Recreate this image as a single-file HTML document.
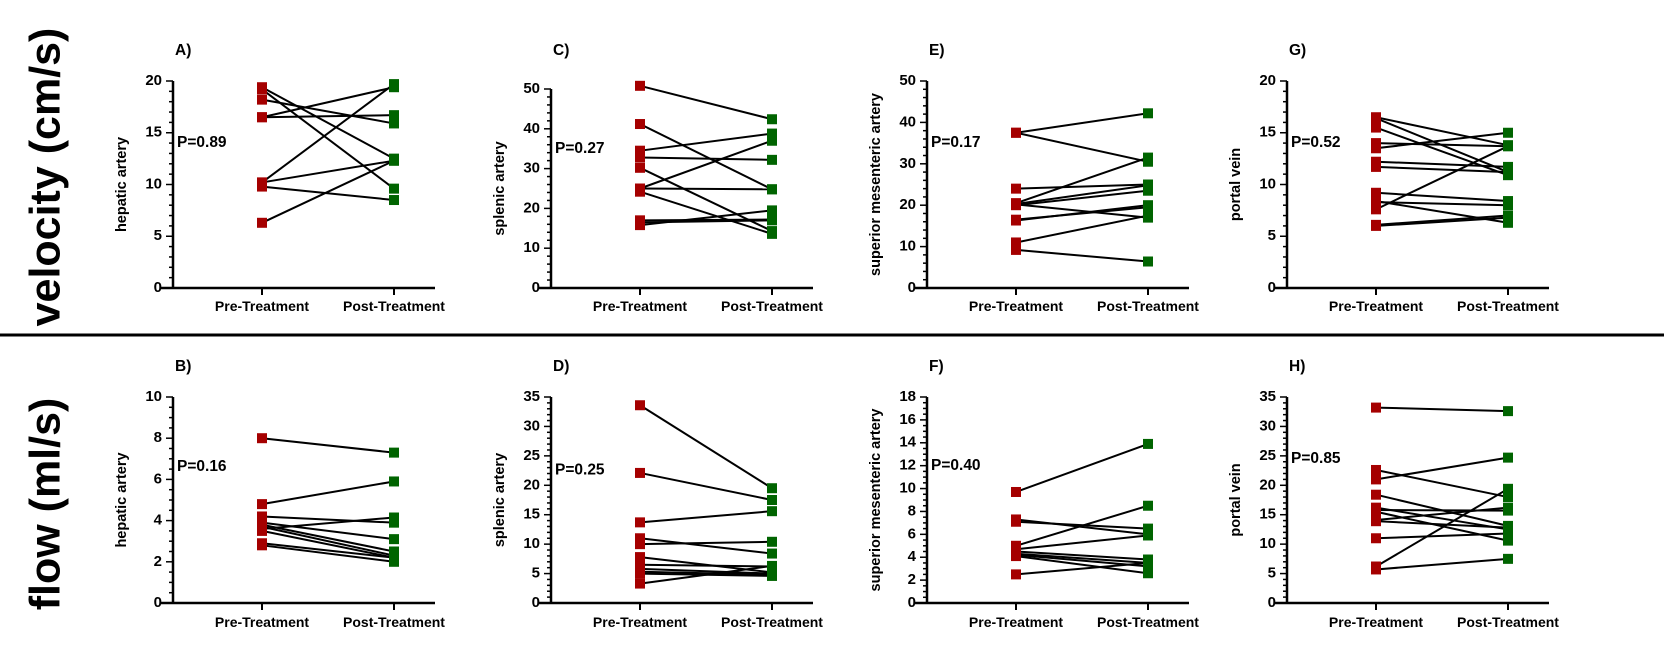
<!DOCTYPE html>
<html><head><meta charset="utf-8"><style>
body{margin:0;background:#fff;}
svg{display:block;font-family:"Liberation Sans",Arial,sans-serif;font-weight:bold;}
</style></head><body>
<svg id="fig" width="1674" height="669">
<text x="48" y="177" transform="rotate(-90 48 177)" text-anchor="middle" dominant-baseline="middle" font-size="43">velocity (cm/s)</text>
<text x="48" y="504" transform="rotate(-90 48 504)" text-anchor="middle" dominant-baseline="middle" font-size="43">flow (ml/s)</text>
<line x1="0" y1="335" x2="1664" y2="335" stroke="#000" stroke-width="3"/>
</svg>
<script>
const labels=["A)","C)","E)","G)","B)","D)","F)","H)"];
const yTitles=["hepatic artery","splenic artery","superior mesenteric artery","portal vein","hepatic artery","splenic artery","superior mesenteric artery","portal vein"];
const pValues=["P=0.89","P=0.27","P=0.17","P=0.52","P=0.16","P=0.25","P=0.40","P=0.85"];
const yMax=[20,50,50,20,10,35,18,35];
const yStep=[5,10,10,5,2,5,2,5];
const yMinor=[1,2,2,1,0.5,1,0.5,1];
const categories=["Pre-Treatment","Post-Treatment"];
const preA=[19.4,19.2,16.5,16.5,10.2,10.2,9.8,6.3,18.2], postA=[12.5,9.6,19.4,16.7,19.7,12.3,8.5,12.3,15.9];
const preC=[50.8,41.2,34.5,32.8,30.2,25,25,24.2,17,16.5,15.8], postC=[42.4,24.8,38.8,32.2,14.3,37,24.8,13.6,17.2,17,19.5];
const preE=[37.5,37.5,24,20.5,20.3,20,20.2,16.5,16.3,11,9.2], postE=[42.2,30.5,25,31.5,24.8,23.5,17,19.5,20,17.5,6.4];
const preG=[16.5,16.4,15.5,14,13.5,12.2,11.7,9.2,8.3,8.4,7.6,6.1,6.0], postG=[13.8,11.2,10.9,13.7,15,11.7,11.2,8.4,8,6.3,13.7,7,6.8];
const preB=[8,4.8,4.2,3.6,3.9,3.8,3.7,3.5,2.9,2.8], postB=[7.3,5.9,3.9,4.15,3.1,2.5,2.3,2.2,2.2,2.0];
const preD=[33.6,22.1,13.7,11,10,7.8,6.5,5.8,5.3,5,3.3], postD=[19.5,17.5,15.6,8.4,10.4,5.2,6.2,5,4.8,4.6,6.3];
const preF=[9.7,7.3,7.1,5,4.7,4.5,4.3,4.2,4.1,2.5], postF=[13.9,6,6.5,8.5,5.9,3.8,3.5,3.2,2.6,3.5];
const preH=[33.2,22.6,21,18.4,16.2,15.8,15.5,14.1,13.9,11,6.2,5.7], postH=[32.6,18,24.7,13.1,12.5,15.7,10.6,16.2,12.8,11.8,19.4,7.5];
const pres=[preA,preC,preE,preG,preB,preD,preF,preH];
const posts=[postA,postC,postE,postG,postB,postD,postF,postH];
const axisX=[173,551,927,1287];
const NS="http://www.w3.org/2000/svg";
const svg=document.getElementById('fig');
function mk(tag,attrs,parent){const e=document.createElementNS(NS,tag);for(const k in attrs)e.setAttribute(k,attrs[k]);(parent||svg).appendChild(e);return e;}
for(let i=0;i<8;i++){
  const col=i%4,row=Math.floor(i/4);
  const ax=axisX[col];
  const yTop=row?397:(i==1?89:81), y0=row?603:288;
  const ys=v=>y0-(v/yMax[i])*(y0-yTop);
  const xPre=ax+89, xPost=ax+221;
  const xs=k=>k==0?xPre:xPost;
  const g=mk('g',{});
  
  
  const lt=mk('text',{x:ax+2,y:row?371:55,'font-size':15.5},g);lt.textContent=labels[i];
  
  const yt=mk('text',{x:0,y:0,'font-size':14.5,'text-anchor':'middle',transform:`translate(${ax-47},${(yTop+y0)/2}) rotate(-90)`},g);yt.textContent=yTitles[i];
  
  const pt=mk('text',{x:ax+4,y:row?(i==6?(y0-(12/18)*(y0-yTop)):(ys(i==4?6.6:(i==5?22.5:24.5)))):(ys(yMax[i]*0.7)),'font-size':15.5,'dominant-baseline':'middle'},g);pt.textContent=pValues[i];
  
  const ya=mk('line',{x1:ax,y1:yTop,x2:ax,y2:y0+1,stroke:'#000','stroke-width':2.5},g);
  
  const xa=mk('line',{x1:ax-12,y1:y0,x2:ax+262,y2:y0,stroke:'#000','stroke-width':2.5},g);
  
  for(let v=0;v<=yMax[i]+1e-9;v+=yMinor[i]){
    const major=Math.abs(v/yStep[i]-Math.round(v/yStep[i]))<1e-6;
    mk('line',{x1:ax-(major?7:4),y1:ys(v),x2:ax,y2:ys(v),stroke:'#000','stroke-width':1.5},g);
    if(major){const t=mk('text',{x:ax-11,y:ys(v),'font-size':15,'text-anchor':'end','dominant-baseline':'middle'},g);t.textContent=Math.round(v);
      }
  }
  categories.forEach((c,k)=>{
    mk('line',{x1:xs(k),y1:y0,x2:xs(k),y2:y0+7,stroke:'#000','stroke-width':2},g);
    const t=mk('text',{x:xs(k),y:row?627:311,'font-size':14,'text-anchor':'middle'},g);t.textContent=c;
    
  });
  const pre=pres[i],post=posts[i];
  for(let j=0;j<pre.length;j++){
    const l=mk('line',{x1:xPre,y1:ys(pre[j]),x2:xPost,y2:ys(post[j]),stroke:'#000','stroke-width':2},g);
    
  }
  for(let j=0;j<pre.length;j++){
    const a=mk('rect',{x:xPre-5,y:ys(pre[j])-5,width:10,height:10,fill:'#a50000'},g);
    
    const b=mk('rect',{x:xPost-5,y:ys(post[j])-5,width:10,height:10,fill:'#006400'},g);
    
  }
}
</script>
</body></html>
